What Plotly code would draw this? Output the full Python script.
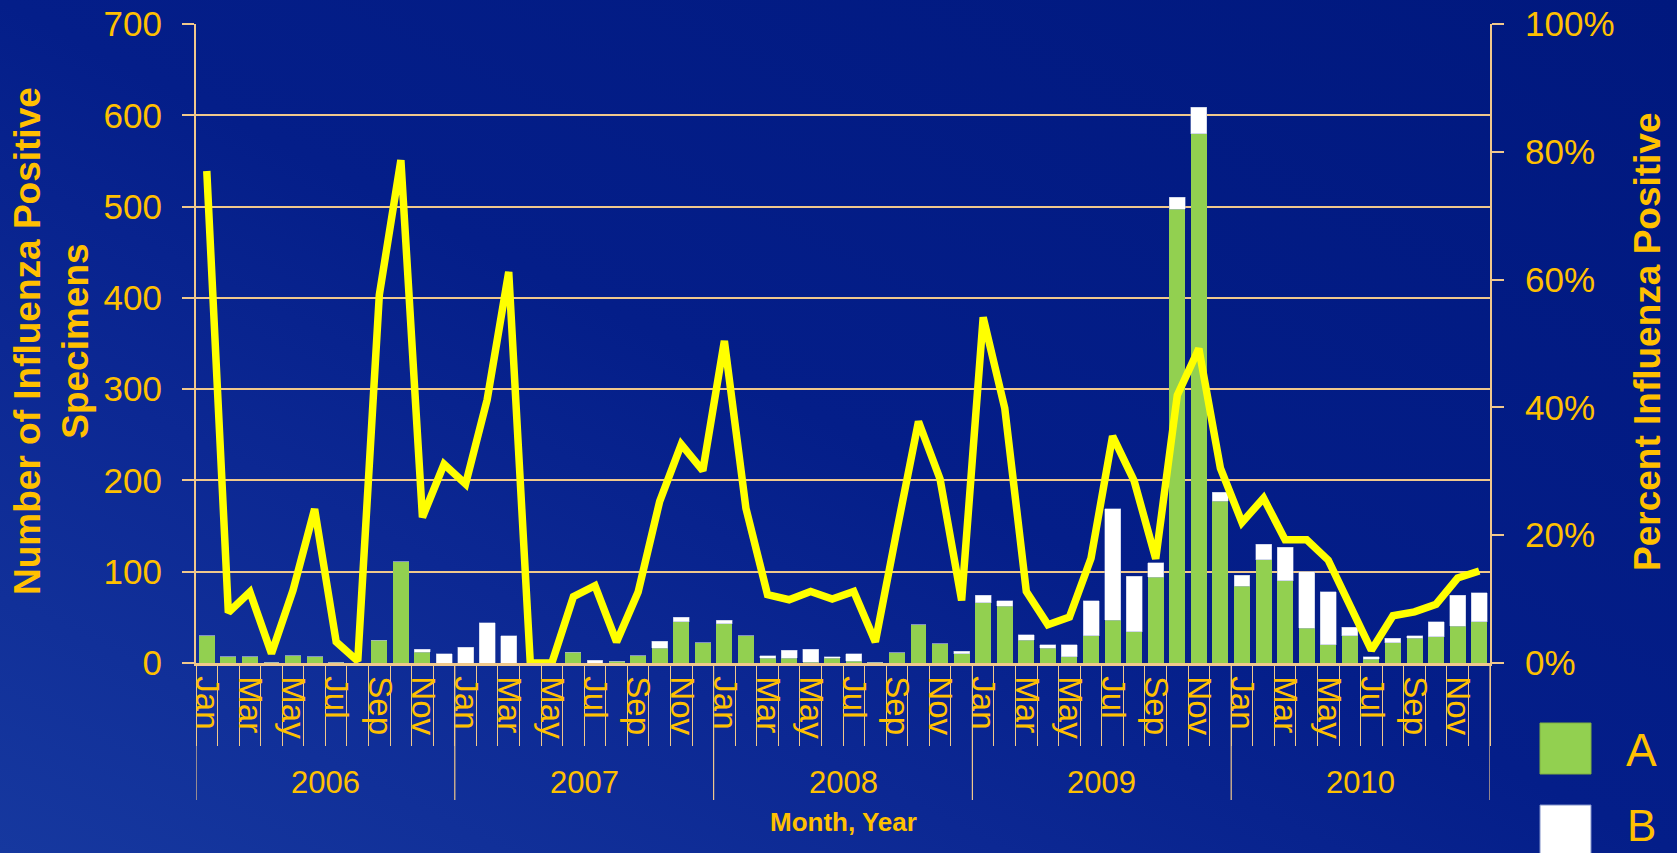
import base64
import plotly.graph_objects as go

# ---------------- data ----------------
years = ["2006", "2007", "2008", "2009", "2010"]
month_names = ["Jan", "Feb", "Mar", "Apr", "May", "Jun",
               "Jul", "Aug", "Sep", "Oct", "Nov", "Dec"]

flu_a = [30, 7, 7, 1, 8, 7, 1, 0, 25, 111, 12, 0,
         0, 0, 0, 0, 0, 12, 0, 2, 8, 16, 45, 22,
         43, 30, 5, 5, 1, 5, 2, 1, 11, 42, 21, 10,
         66, 62, 25, 16, 7, 30, 47, 34, 94, 497, 580, 177,
         84, 113, 90, 38, 20, 30, 4, 22, 27, 29, 40, 45]
flu_b = [0, 0, 0, 0, 0, 0, 0, 0, 0, 0, 3, 10,
         17, 44, 30, 0, 0, 0, 3, 0, 0, 8, 5, 0,
         4, 0, 3, 9, 14, 2, 8, 0, 0, 0, 0, 3,
         8, 6, 6, 4, 13, 38, 122, 61, 16, 13, 29, 10,
         12, 17, 37, 62, 58, 9, 3, 5, 3, 16, 34, 32]
pct_positive = [77.0, 7.9, 11.1, 1.5, 11.4, 24.1, 3.3, 0.3, 57.6, 78.7, 22.8, 31.1,
                28.0, 41.2, 61.2, 0.0, 0.0, 10.4, 12.1, 3.3, 11.1, 25.3, 34.2, 30.1,
                50.4, 24.2, 10.7, 9.9, 11.2, 10.0, 11.2, 3.3, 20.8, 37.8, 28.8, 9.8,
                54.1, 39.9, 11.2, 6.0, 7.2, 16.4, 35.5, 28.5, 16.3, 41.9, 49.2, 30.5,
                22.0, 25.8, 19.3, 19.3, 16.1, 8.7, 2.0, 7.4, 8.0, 9.2, 13.3, 14.4]

left_ticks = [0, 100, 200, 300, 400, 500, 600, 700]
right_ticks = [0, 0.2, 0.4, 0.6, 0.8, 1.0]

# ---------------- derived ----------------
n = len(flu_a)
x = list(range(n))
pct_frac = [p / 100 for p in pct_positive]
label_vals = x[::2]
label_text = [month_names[i % 12] for i in label_vals]
month_bounds = [i - 0.5 for i in range(n + 1)]
year_bounds = [12 * k - 0.5 for k in range(len(years) + 1)]
year_centers = [12 * k + 5.5 for k in range(len(years))]

# ---------------- style ----------------
GOLD = "#FFC000"
TAN = "#F0C88C"
GREEN = "#92D050"
FONT = "Liberation Sans, Arial, sans-serif"
W, H = 1677, 853
ML, MR, MT, MB = 196, 187, 24, 190
PW, PH = W - ML - MR, H - MT - MB

def px_x(px):
    return (px - ML) / PW

def px_y(py):
    return (H - MB - py) / PH

svg = ('<svg xmlns="http://www.w3.org/2000/svg" width="1677" height="853">'
       '<defs><linearGradient id="g" x1="0" y1="1" x2="1" y2="0">'
       '<stop offset="0" stop-color="#16389F"/>'
       '<stop offset="0.3" stop-color="#0C2893"/>'
       '<stop offset="0.5" stop-color="#041E89"/>'
       '<stop offset="1" stop-color="#00187E"/>'
       '</linearGradient></defs><rect width="100%" height="100%" fill="url(#g)"/></svg>')
bg_src = "data:image/svg+xml;base64," + base64.b64encode(svg.encode()).decode()

fig = go.Figure()
fig.add_trace(go.Bar(x=x, y=flu_a, name="A", marker=dict(color=GREEN, line=dict(width=0)),
                     showlegend=False))
fig.add_trace(go.Bar(x=x, y=flu_b, name="B",
                     marker=dict(color="white", line=dict(color="#A8B4D8", width=0.5)),
                     showlegend=False))
fig.add_trace(go.Scatter(x=x, y=pct_frac, yaxis="y2", mode="lines",
                         line=dict(color="#FFFF00", width=7.5), name="% Positive",
                         showlegend=False))

shapes = []
for b in year_bounds:
    shapes.append(dict(type="line", xref="x", yref="paper", x0=b, x1=b,
                       y0=0, y1=px_y(800), line=dict(color=TAN, width=1.2)))
# legend swatches
shapes.append(dict(type="rect", xref="paper", yref="paper",
                   x0=px_x(1540), x1=px_x(1591), y0=px_y(774), y1=px_y(723),
                   fillcolor=GREEN, line=dict(color="#7FB040", width=1)))
shapes.append(dict(type="rect", xref="paper", yref="paper",
                   x0=px_x(1540), x1=px_x(1591), y0=px_y(856), y1=px_y(805),
                   fillcolor="white", line=dict(color="#8090C8", width=1)))

annotations = []
for yc, yr in zip(year_centers, years):
    annotations.append(dict(x=yc, xref="x", y=px_y(782), yref="paper", text=yr,
                            showarrow=False, font=dict(family=FONT, size=31, color=GOLD),
                            xanchor="center", yanchor="middle"))
annotations.append(dict(x=0.5, xref="paper", y=px_y(822), yref="paper",
                        text="<b>Month, Year</b>", showarrow=False,
                        font=dict(family=FONT, size=26, color=GOLD),
                        xanchor="center", yanchor="middle"))
annotations.append(dict(x=px_x(51), xref="paper", y=px_y(341), yref="paper",
                        text="<b>Number of Influenza Positive<br>Specimens</b>",
                        textangle=-90, showarrow=False,
                        font=dict(family=FONT, size=37, color=GOLD),
                        xanchor="center", yanchor="middle"))
annotations.append(dict(x=px_x(1647), xref="paper", y=px_y(342), yref="paper",
                        text="<b>Percent Influenza Positive</b>",
                        textangle=-90, showarrow=False,
                        font=dict(family=FONT, size=37, color=GOLD),
                        xanchor="center", yanchor="middle"))
annotations.append(dict(x=px_x(1641), xref="paper", y=px_y(750), yref="paper",
                        text="A", showarrow=False,
                        font=dict(family=FONT, size=46, color=GOLD),
                        xanchor="center", yanchor="middle"))
annotations.append(dict(x=px_x(1641), xref="paper", y=px_y(826), yref="paper",
                        text="B", showarrow=False,
                        font=dict(family=FONT, size=44, color=GOLD),
                        xanchor="center", yanchor="middle"))

fig.update_layout(
    width=W, height=H,
    margin=dict(l=ML, r=MR, t=MT, b=MB, autoexpand=False),
    paper_bgcolor="#041C86",
    plot_bgcolor="rgba(0,0,0,0)",
    barmode="stack",
    bargap=0.26,
    font=dict(family=FONT, color=GOLD),
    images=[dict(source=bg_src, xref="paper", yref="paper",
                 x=px_x(0), y=px_y(0), sizex=W / PW, sizey=H / PH,
                 xanchor="left", yanchor="top", sizing="stretch", layer="below")],
    xaxis=dict(
        range=[-0.5, n - 0.5], tickmode="array", tickvals=label_vals, ticktext=label_text,
        tickangle=90, tickfont=dict(family=FONT, size=33, color=GOLD),
        ticks="", showline=True, linecolor=TAN, linewidth=2.5, showgrid=False,
        zeroline=False, ticklabelstandoff=4,
        minor=dict(ticks="outside", tickmode="array", tickvals=month_bounds,
                   ticklen=80, tickcolor=TAN, tickwidth=1, showgrid=False),
    ),
    yaxis=dict(
        range=[0, 700], tickmode="array", tickvals=left_ticks,
        tickfont=dict(family=FONT, size=35, color=GOLD),
        showgrid=True, gridcolor=TAN, gridwidth=1.5,
        showline=True, linecolor=TAN, linewidth=2,
        ticks="outside", ticklen=12, tickcolor=TAN, tickwidth=1.5,
        zeroline=False, ticklabelstandoff=13,
    ),
    yaxis2=dict(
        range=[0, 1], overlaying="y", side="right", tickmode="array",
        tickvals=right_ticks, tickformat=".0%",
        tickfont=dict(family=FONT, size=35, color=GOLD),
        showgrid=False, showline=True, linecolor=TAN, linewidth=2,
        ticks="outside", ticklen=12, tickcolor=TAN, tickwidth=1.5,
        zeroline=False, ticklabelstandoff=14,
    ),
    shapes=shapes,
    annotations=annotations,
)

fig.write_html("out.html")
